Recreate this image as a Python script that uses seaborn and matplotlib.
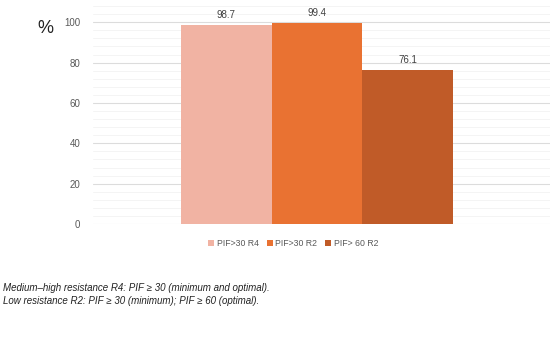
import numpy as np
import pandas as pd
import matplotlib
matplotlib.use("Agg")
import matplotlib.pyplot as plt
from matplotlib.patches import Patch
import seaborn as sns

# Data
groups = ["PIF>30 R4", "PIF>30 R2", "PIF> 60 R2"]
values = [98.7, 99.4, 76.1]
colors = ["#F1B3A3", "#E97232", "#C05B28"]
y_ticks = [0, 20, 40, 60, 80, 100]
notes = ["Medium\u2013high resistance R4: PIF \u2265 30 (minimum and optimal).",
         "Low resistance R2: PIF \u2265 30 (minimum); PIF \u2265 60 (optimal)."]

df = pd.DataFrame({"cat": [""] * len(groups), "group": groups, "value": values})

sns.set_style("white")
plt.rcParams['font.family'] = ['Liberation Sans', 'DejaVu Sans']

fig = plt.figure(figsize=(5.5, 3.37), dpi=100)
ax = fig.add_axes([0.169, 0.335, 0.831, 0.659])

sns.barplot(data=df, x="cat", y="value", hue="group", hue_order=groups,
            palette=colors, width=0.595, saturation=1, legend=False,
            linewidth=0, ax=ax)

ax.set_xlim(-0.49, 0.51)
ax.set_ylim(0, 110)
ax.set_yticks(y_ticks)
ax.set_yticks(np.arange(0, 110, 4), minor=True)
ax.grid(axis="y", which="major", color="#DCDCDC", linewidth=0.8)
ax.grid(axis="y", which="minor", color="#F2F2F2", linewidth=0.6)
ax.set_axisbelow(True)
for s in ax.spines.values():
    s.set_visible(False)
ax.tick_params(axis="y", which="both", length=0, labelsize=7, labelcolor="#595959", pad=9)
ax.tick_params(axis="x", length=0)
ax.set_xticklabels([])
ax.set_xlabel("")
ax.set_ylabel("")

for p in ax.patches:
    h = p.get_height()
    if h > 0:
        ax.text(p.get_x() + p.get_width() / 2, h + 2.5, f"{h:.1f}",
                ha="center", va="bottom", fontsize=7, color="#404040")

fig.text(0.082, 0.915, "%", fontsize=13, ha="center", va="center", color="#222222")

handles = [Patch(facecolor=c, edgecolor="none") for c in colors]
fig.legend(handles, groups, loc="center", bbox_to_anchor=(0.533, 0.277), ncol=3,
           frameon=False, fontsize=6.3, handlelength=0.7, handleheight=0.7,
           handletextpad=0.3, columnspacing=0.9, labelcolor="#595959")

fig.text(0.006, 0.146, notes[0], fontsize=7, style="italic", va="center", color="#222222")
fig.text(0.006, 0.107, notes[1], fontsize=7, style="italic", va="center", color="#222222")

fig.savefig("out.png", dpi=100)
